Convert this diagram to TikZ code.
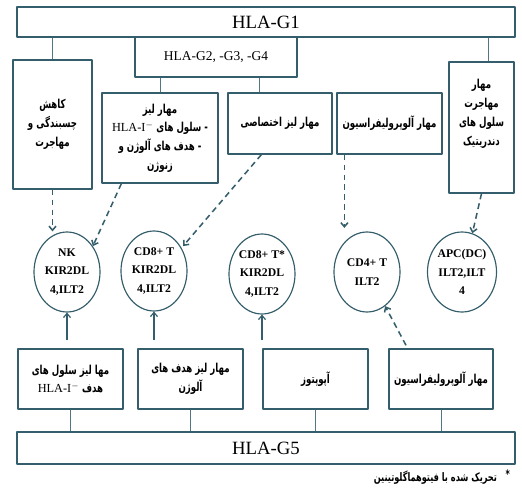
\documentclass[tikz,border=0pt]{standalone}
\usepackage{fontspec}
\setmainfont{Liberation Serif}
\newfontfamily\fa[Script=Arabic,FakeStretch=0.7]{DejaVu Sans}
\usetikzlibrary{arrows.meta,shapes.geometric}
\TeXXeTstate=1
\definecolor{boxteal}{RGB}{52,94,108}
\newcommand{\rl}[1]{\beginR#1\endR}
\newcommand{\hlai}{\beginL{\normalfont\fontsize{10.5}{12}\selectfont HLA-I$^{-}$}\endL}
\tikzset{
  box/.style={draw=boxteal,line width=1pt,inner sep=1pt,align=center,font=\fa\bfseries\fontsize{10.5}{16}\selectfont},
  titlebox/.style={draw=boxteal,line width=1pt,inner sep=1pt,align=center},
  cell/.style={ellipse,draw=boxteal,line width=1pt,inner sep=0pt,minimum width=1.98cm,minimum height=2.4cm,align=center,font=\bfseries\fontsize{10}{16}\selectfont},
  link/.style={boxteal!85,line width=0.6pt},
  dasharrow/.style={boxteal,line width=1.3pt,dash pattern=on 5pt off 3.5pt,-{Straight Barb[length=3.5pt,width=6pt]}},
  uparrow/.style={boxteal,line width=1pt,-{Straight Barb[length=3.5pt,width=6pt]}}
}
\begin{document}
\begin{tikzpicture}[x=0.03cm,y=-0.03cm,line join=round]
\useasboundingbox (0,0) rectangle (522,502);
% top row
\node[titlebox,minimum width=14.94cm,minimum height=0.9cm,font=\fontsize{16}{18}\selectfont] (g1) at (266,22) {HLA-G1};
\node[titlebox,minimum width=4.86cm,minimum height=1.2cm,font=\fontsize{11.5}{13}\selectfont] (g2) at (216,57) {HLA-G2, -G3, -G4};
% effect boxes
\node[box,minimum width=2.37cm,minimum height=3.87cm] (cut) at (52.5,124.5) {\rl{کاهش}\\\rl{چسبندگی و}\\\rl{مهاجرت}};
\node[box,minimum width=3.48cm,minimum height=2.7cm] (lys1) at (160,138) {\rl{مهار لیز}\\\rl{- سلول های \hlai}\\\rl{- هدف های آلوژن و}\\\rl{زنوژن}};
\node[box,minimum width=3.12cm,minimum height=1.83cm] (lys2) at (280,123.5) {\rl{مهار لیز اختصاصی}};
\node[box,minimum width=3.15cm,minimum height=1.83cm] (allo) at (389.5,123.5) {\rl{مهار آلوپرولیفراسیون}};
\node[box,minimum width=1.95cm,minimum height=3.93cm] (dc) at (481.5,127.5) {\rl{مهار}\\\rl{مهاجرت}\\\rl{سلول های}\\\rl{دندریتیک}\\[10pt]};
% cells
\node[cell] (nk) at (67,272) {NK\\KIR2DL\\4,ILT2};
\node[cell] (cd8) at (154,271) {CD8+ T\\KIR2DL\\4,ILT2};
\node[cell] (cd8s) at (262,274) {CD8+ T*\\KIR2DL\\4,ILT2};
\node[cell] (cd4) at (367,272) {CD4+ T\\ILT2};
\node[cell] (apc) at (462,272) {APC(DC)\\ILT2,ILT\\4};
% bottom row
\node[box,minimum width=3.15cm,minimum height=1.8cm] (b1) at (70.5,379) {\rl{مها لیز سلول های}\\\rl{هدف \hlai}};
\node[box,minimum width=3.15cm,minimum height=1.8cm] (b2) at (190.5,379) {\rl{مهار لیز هدف های}\\\rl{آلوژن}};
\node[box,minimum width=3.15cm,minimum height=1.8cm] (b3) at (315.5,379) {\rl{آپوپتوز}};
\node[box,minimum width=3.12cm,minimum height=1.8cm] (b4) at (441,379) {\rl{مهار آلوپرولیفراسیون}};
\node[titlebox,minimum width=14.94cm,minimum height=0.96cm,font=\fontsize{16}{18}\selectfont] (g5) at (266,448) {HLA-G5};
\node[font=\fa\bfseries\fontsize{10}{11}\selectfont,anchor=east] (note) at (514,477) {\rl{\raisebox{3pt}{*}\ \ \ تحریک شده با فیتوهماگلوتینین}};
% links
\draw[link] (cut.north) -- (cut.north |- g1.south);
\draw[link] ([xshift=0.22cm]dc.north) -- ([xshift=0.22cm]dc.north |- g1.south);
\draw[link] (lys1.north) -- (lys1.north |- g2.south);
\draw[link] ([xshift=-0.63cm]lys2.north) -- ([xshift=-0.63cm]lys2.north |- g2.south);
\draw[link] (b1.south) -- (b1.south |- g5.north);
\draw[link] (b2.south) -- (b2.south |- g5.north);
\draw[link] (b3.south) -- (b3.south |- g5.north);
\draw[link] (b4.south) -- (b4.south |- g5.north);
% arrows
\draw[dasharrow] (cut.south) -- (cut.south |- nk.north);
\draw[dasharrow] ([xshift=0.6cm]lys1.south west) -- (nk.45);
\draw[dasharrow,shorten >=2pt] ([xshift=1.02cm]lys2.south west) -- (cd8.40);
\draw[dasharrow,shorten >=3pt] ([xshift=0.24cm]allo.south west) -- ([xshift=0.24cm]allo.south west |- cd4.north);
\draw[dasharrow] (dc.south) -- (apc.75);
\draw[uparrow,shorten <=7pt] (b1.north -| nk.south) -- (nk.south);
\draw[uparrow,shorten <=7pt] (b2.north -| cd8.south) -- (cd8.south);
\draw[uparrow,shorten <=7pt] (b3.north -| cd8s.south) -- (cd8s.south);
\draw[dasharrow,shorten <=3pt] ([xshift=-1cm]b4.north) -- (cd4.-62);
\end{tikzpicture}
\end{document}
